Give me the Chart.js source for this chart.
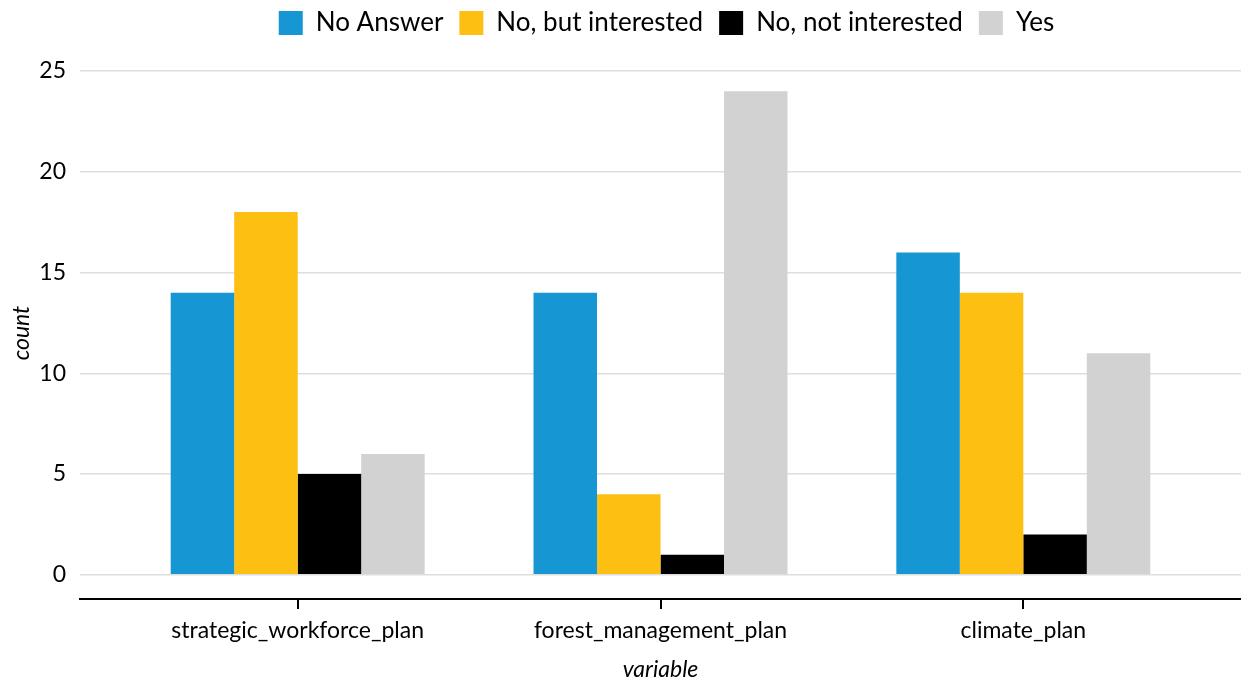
<!DOCTYPE html>
<html><head><meta charset="utf-8">
<script src="https://cdn.jsdelivr.net/npm/chart.js@4"></script>
<style>html,body{margin:0;padding:0;background:#fff}#wrap{width:1241px;height:683px}</style>
</head><body><div id="wrap"><canvas id="c"></canvas></div>
<script>
const categories = ["strategic_workforce_plan", "forest_management_plan", "climate_plan"];
const seriesNames = ["No Answer", "No, but interested", "No, not interested", "Yes"];
const noAnswer = [14, 14, 16];
const noButInterested = [18, 4, 14];
const noNotInterested = [5, 1, 2];
const yes = [6, 24, 11];
const yTicks = [0, 5, 10, 15, 20, 25];
const colors = ["#1696d2", "#fdbf11", "#000000", "#d2d2d2"];

const seriesValues = [noAnswer, noButInterested, noNotInterested, yes];
const datasets = seriesValues.map((vals, i) => ({
  label: seriesNames[i],
  data: vals.map((v, j) => ({x: j + 1, y: v})),
  backgroundColor: colors[i],
  borderWidth: 0,
  categoryPercentage: 0.7,
  barPercentage: 1.0
}));

Chart.defaults.font.family = "Lato";
Chart.defaults.color = "#000";

const legendTweak = {
  id: "legendTweak",
  afterInit(chart) {
    const lg = chart.legend;
    const fit = lg.fit;
    lg.fit = function () { fit.call(this); this.height += 15; };
  },
  afterLayout(chart) {
    const lg = chart.legend;
    lg.left += 46; lg.right += 46;
    lg.top -= 6; lg.bottom -= 6;
  }
};

new Chart(document.getElementById("c"), {
  type: "bar",
  data: {datasets},
  plugins: [legendTweak],
  options: {
    responsive: true,
    maintainAspectRatio: false,
    animation: false,
    layout: {padding: {left: 0, right: 0, top: 0, bottom: 0}},
    plugins: {
      tooltip: {enabled: false},
      legend: {
        position: "top",
        labels: {
          boxWidth: 24, boxHeight: 24, padding: 16,
          font: {size: 26}, color: "#000"
        }
      }
    },
    scales: {
      x: {
        type: "linear",
        offset: false,
        min: 0.4, max: 3.6,
        afterBuildTicks: s => { s.ticks = categories.map((c, i) => ({value: i + 1})); },
        afterFit: s => { s.height = 84; },
        ticks: {
          callback: v => categories[Math.round(v) - 1],
          font: {size: 23}, color: "#000", padding: 8, maxRotation: 0, autoSkip: false
        },
        grid: {display: true, offset: false, drawOnChartArea: false, drawTicks: true, tickLength: 10, color: "#000", lineWidth: 2},
        border: {display: true, color: "#000", width: 2},
        title: {display: true, text: "variable", font: {size: 23, style: "italic"}, color: "#000", padding: {top: 6, bottom: 0}}
      },
      y: {
        min: -1.2, max: 25.2,
        afterBuildTicks: s => { s.ticks = yTicks.map(v => ({value: v})); },
        afterFit: s => { s.width = 80; },
        ticks: {font: {size: 23}, color: "#000", padding: 14},
        grid: {color: "#dedede", lineWidth: 1.5, drawTicks: false},
        border: {display: false},
        title: {display: true, text: "count", font: {size: 23, style: "italic"}, color: "#000", padding: {top: 8, bottom: 0}}
      }
    }
  }
});
</script></body></html>
